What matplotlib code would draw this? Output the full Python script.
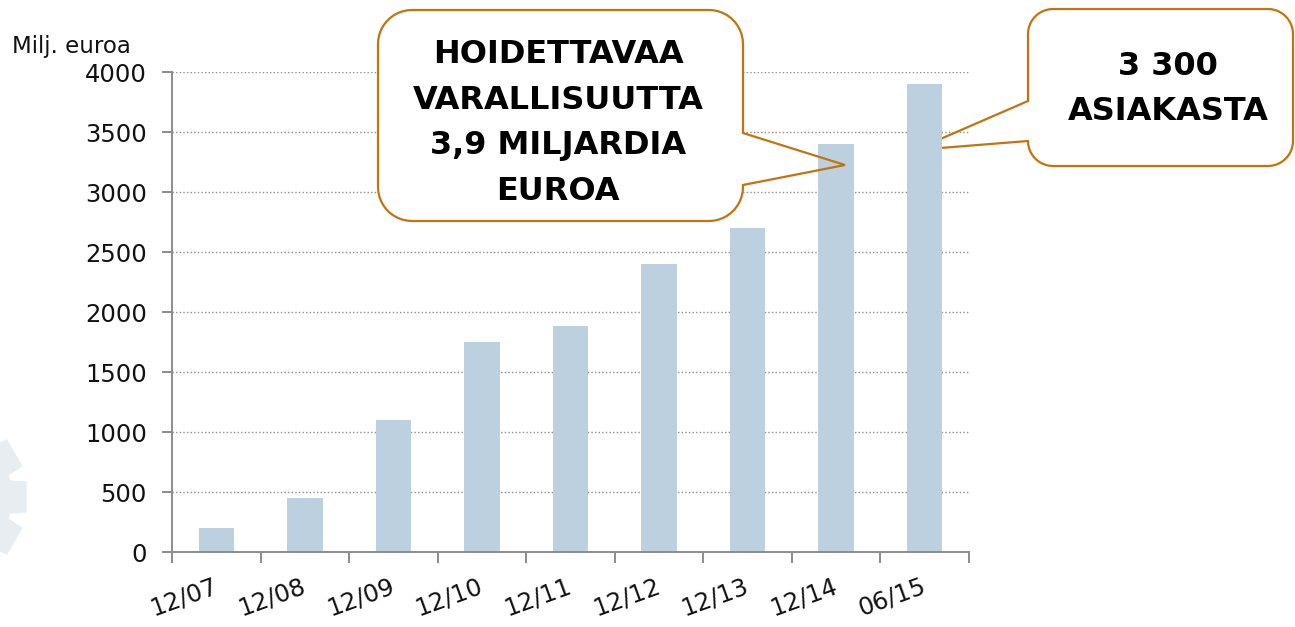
import matplotlib
matplotlib.use("Agg")
import matplotlib.pyplot as plt
import numpy as np
from matplotlib.patches import Polygon

# data
categories = ["12/07", "12/08", "12/09", "12/10", "12/11", "12/12", "12/13", "12/14", "06/15"]
values = [200, 450, 1100, 1750, 1880, 2400, 2700, 3400, 3900]
yticks = [0, 500, 1000, 1500, 2000, 2500, 3000, 3500, 4000]

W, H = 1295, 627
bar_color = "#BDD0E0"
axis_color = "#8C8C8C"
box_color = "#C3730F"


def to_fig(pts):
    # pixel coords (y down) -> figure fraction
    pts = np.asarray(pts, float)
    return np.column_stack([pts[:, 0] / W, 1 - pts[:, 1] / H])


def arc(cx, cy, r, a0, a1, n=12):
    t = np.radians(np.linspace(a0, a1, n))
    return list(zip(cx + r * np.cos(t), cy + r * np.sin(t)))


def rounded_box(x0, y0, x1, y1, r, tail=None):
    # tail = (side, y_top, y_bot, tip)
    pts = []
    pts += arc(x1 - r, y0 + r, r, -90, 0)
    if tail and tail[0] == "right":
        pts += [(x1, tail[1]), tail[3], (x1, tail[2])]
    pts += arc(x1 - r, y1 - r, r, 0, 90)
    pts += arc(x0 + r, y1 - r, r, 90, 180)
    if tail and tail[0] == "left":
        pts += [(x0, tail[2]), tail[3], (x0, tail[1])]
    pts += arc(x0 + r, y0 + r, r, 180, 270)
    return pts


fig = plt.figure(figsize=(12.95, 6.27), dpi=100)

# faint gear watermark at the left edge
gear = []
cx, cy, ro, ri = -62, 497, 90, 74
for k in range(12):
    a = k * 30
    gear += [(cx + ri * np.cos(np.radians(a - 13)), cy + ri * np.sin(np.radians(a - 13))),
             (cx + ro * np.cos(np.radians(a - 10)), cy + ro * np.sin(np.radians(a - 10))),
             (cx + ro * np.cos(np.radians(a + 10)), cy + ro * np.sin(np.radians(a + 10))),
             (cx + ri * np.cos(np.radians(a + 13)), cy + ri * np.sin(np.radians(a + 13)))]
fig.add_artist(Polygon(to_fig(gear), closed=True, facecolor="#E8EDF2", edgecolor="none",
                       transform=fig.transFigure, zorder=0))

ax = fig.add_axes([172 / W, 1 - 552 / H, (969 - 172) / W, (552 - 72) / H])
ax.patch.set_alpha(0)
x = np.arange(len(categories))
ax.bar(x, values, width=0.4, color=bar_color, zorder=2)

ax.set_xlim(-0.5, len(categories) - 0.5)
ax.set_ylim(0, 4000)
ax.set_yticks(yticks)
ax.set_yticklabels([str(v) for v in yticks])
ax.set_axisbelow(True)
ax.yaxis.grid(True, linestyle=(0, (1, 1.6)), color="#8E8E8E", linewidth=1.0)

for s in ["top", "right"]:
    ax.spines[s].set_visible(False)
for s in ["left", "bottom"]:
    ax.spines[s].set_color(axis_color)
    ax.spines[s].set_linewidth(1.4)

ax.set_xticks(np.arange(len(categories) + 1) - 0.5)
ax.set_xticklabels([])
ax.set_xticks(x, minor=True)
ax.set_xticklabels(categories, minor=True, rotation=20, ha="right", va="center",
                   rotation_mode="anchor", fontsize=17.5, color="#111111")
ax.tick_params(axis="x", which="major", length=8, width=1.4, color=axis_color)
ax.tick_params(axis="x", which="minor", length=0, pad=24)
ax.tick_params(axis="y", length=7, width=1.4, color=axis_color, pad=11,
               labelsize=17.5, labelcolor="#111111")

fig.text(12 / W, 1 - 46 / H, "Milj. euroa", fontsize=16.5, ha="left", va="center", color="#111111")

# left callout, tail drawn over the 12/14 bar
lb = (378, 10, 743, 221, 34)
ax.add_patch(Polygon(to_fig(rounded_box(*lb)), closed=True, facecolor="white", edgecolor="none",
                     transform=fig.transFigure, clip_on=False, zorder=1.2))
ax.add_patch(Polygon(to_fig(rounded_box(*lb, tail=("right", 133, 185, (845, 165)))), closed=True,
                     facecolor="none", edgecolor=box_color, linewidth=1.6,
                     transform=fig.transFigure, clip_on=False, zorder=3.5))
ax.text(558 / W, 1 - 123 / H, "HOIDETTAVAA\nVARALLISUUTTA\n3,9 MILJARDIA\nEUROA",
        transform=fig.transFigure, ha="center", va="center", multialignment="center",
        fontsize=23, fontweight="bold", linespacing=1.6, zorder=5, color="black")

# right callout, tip hidden behind the 06/15 bar
rb = (1028, 9, 1293, 166, 25)
ax.add_patch(Polygon(to_fig(rounded_box(*rb)), closed=True, facecolor="white", edgecolor="none",
                     transform=fig.transFigure, clip_on=False, zorder=1.2))
ax.add_patch(Polygon(to_fig(rounded_box(*rb, tail=("left", 101, 141, (915, 150)))), closed=True,
                     facecolor="none", edgecolor=box_color, linewidth=1.6,
                     transform=fig.transFigure, clip_on=False, zorder=1.5))
ax.text(1168 / W, 1 - 89 / H, "3 300\nASIAKASTA",
        transform=fig.transFigure, ha="center", va="center", multialignment="center",
        fontsize=23, fontweight="bold", linespacing=1.6, zorder=5, color="black")

fig.savefig("out.png", dpi=100)
